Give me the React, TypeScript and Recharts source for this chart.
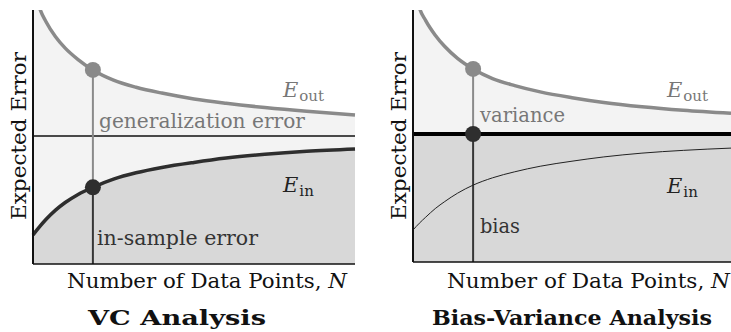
import { ComposedChart, Area, Line, XAxis, YAxis, ReferenceLine, ReferenceDot } from "recharts";

// VC analysis panel
const vcN = [0, 2, 4, 7, 10, 14, 18.6, 25, 32, 40, 50, 60, 72, 85, 100];
const vcEout = [112, 101, 95.5, 89.5, 85, 80.5, 76.4, 72.4, 69.6, 67.3, 65, 63.3, 61.6, 60.1, 58.7];
const vcEin = [11.4, 14.6, 17.5, 21.2, 24.2, 27.4, 30.2, 33.4, 35.9, 38, 40, 41.7, 43.2, 44.4, 45.3];
const vcGeneralization = 50.4;
const vcMarkerN = 18.6;

// bias-variance panel
const bvN = [0, 2, 4, 7, 10, 14, 18.9, 25, 32, 40, 50, 60, 72, 85, 100];
const bvEout = [114, 101, 95.8, 90, 85.5, 80.8, 76.6, 72.8, 70, 67.5, 65.2, 63.3, 61.6, 60.2, 59];
const bvEin = [12.7, 15.4, 17.8, 21.2, 24, 27.3, 30.5, 33.4, 35.8, 38, 40, 41.7, 43.2, 44.3, 45.2];
const bvBias = 50.8;
const bvMarkerN = 18.9;

const vcData = vcN.map((n, i) => ({ n, eout: vcEout[i], ein: vcEin[i] }));
const bvData = bvN.map((n, i) => ({ n, eout: bvEout[i], ein: bvEin[i], bias: bvBias }));

const vcMarkerOut = vcEout[vcN.indexOf(vcMarkerN)];
const vcMarkerIn = vcEin[vcN.indexOf(vcMarkerN)];
const bvMarkerOut = bvEout[bvN.indexOf(bvMarkerN)];

const LIGHT = "#f3f3f3";
const DARK = "#d8d8d8";
const GREY = "#8a8a8a";
const INK = "#363636";
const SERIF = "DejaVu Serif";

const textStyle = { fontFamily: SERIF };

function ErrLabel({ x, y, sub, fill }: { x: number; y: number; sub: string; fill: string }) {
  return (
    <text x={x} y={y} fill={fill} style={textStyle} fontSize={21}>
      <tspan fontStyle="italic">E</tspan>
      <tspan fontSize={15} dy={4} dx={1}>{sub}</tspan>
    </text>
  );
}

function YTitle({ x }: { x: number }) {
  return (
    <text
      transform={`translate(${x},136) rotate(-90)`}
      textAnchor="middle"
      style={textStyle}
      fontSize={20}
      fill="#111"
      textLength={168}
      lengthAdjust="spacingAndGlyphs"
    >
      Expected Error
    </text>
  );
}

function XTitle({ x, width }: { x: number; width: number }) {
  return (
    <text x={x} y={288} style={textStyle} fontSize={20} fill="#111" textLength={width} lengthAdjust="spacingAndGlyphs">
      Number of Data Points, <tspan fontStyle="italic">N</tspan>
    </text>
  );
}

export default function App() {
  return (
    <div style={{ position: "absolute", left: 0, top: 0, width: 731, height: 332, background: "#fff" }}>
      <div style={{ position: "absolute", left: 0, top: 0 }}>
        <ComposedChart width={370} height={332} data={vcData} margin={{ top: 10, right: 15, bottom: 68, left: 33 }}>
          <XAxis dataKey="n" type="number" domain={[0, 100]} hide height={0} />
          <YAxis domain={[0, 100]} allowDataOverflow hide width={0} />
          <Area dataKey="eout" type="monotone" stroke="none" fill={LIGHT} fillOpacity={1} isAnimationActive={false} />
          <Area dataKey="ein" type="monotone" stroke="none" fill={DARK} fillOpacity={1} isAnimationActive={false} />
          <ReferenceLine y={vcGeneralization} stroke="#111" strokeWidth={1.5} />
          <ReferenceLine
            segment={[{ x: vcMarkerN, y: vcMarkerIn }, { x: vcMarkerN, y: vcMarkerOut }]}
            stroke={GREY}
            strokeWidth={2}
          />
          <ReferenceLine segment={[{ x: vcMarkerN, y: 0 }, { x: vcMarkerN, y: vcMarkerIn }]} stroke={INK} strokeWidth={2} />
          <Line dataKey="eout" type="monotone" stroke={GREY} strokeWidth={3.5} dot={false} isAnimationActive={false} />
          <Line dataKey="ein" type="monotone" stroke="#2e2e2e" strokeWidth={3.5} dot={false} isAnimationActive={false} />
          <ReferenceDot x={vcMarkerN} y={vcMarkerOut} r={8} fill={GREY} stroke="none" />
          <ReferenceDot x={vcMarkerN} y={vcMarkerIn} r={8} fill="#2e2e2e" stroke="none" />
          <ReferenceLine x={0} stroke="#111" strokeWidth={2} />
          <ReferenceLine y={0} stroke="#111" strokeWidth={1.5} />
        </ComposedChart>
      </div>
      <div style={{ position: "absolute", left: 370, top: 0 }}>
        <ComposedChart width={361} height={332} data={bvData} margin={{ top: 10, right: 0, bottom: 70, left: 43 }}>
          <XAxis dataKey="n" type="number" domain={[0, 100]} hide height={0} />
          <YAxis domain={[0, 100]} allowDataOverflow hide width={0} />
          <Area dataKey="eout" type="monotone" stroke="none" fill={LIGHT} fillOpacity={1} isAnimationActive={false} />
          <Area dataKey="bias" type="linear" stroke="none" fill={DARK} fillOpacity={1} isAnimationActive={false} />
          <ReferenceLine
            segment={[{ x: bvMarkerN, y: bvBias }, { x: bvMarkerN, y: bvMarkerOut }]}
            stroke={GREY}
            strokeWidth={2}
          />
          <ReferenceLine segment={[{ x: bvMarkerN, y: 0 }, { x: bvMarkerN, y: bvBias }]} stroke={INK} strokeWidth={2} />
          <Line dataKey="ein" type="monotone" stroke="#222" strokeWidth={1} dot={false} isAnimationActive={false} />
          <Line dataKey="eout" type="monotone" stroke={GREY} strokeWidth={3.5} dot={false} isAnimationActive={false} />
          <Line dataKey="bias" type="linear" stroke="#000" strokeWidth={4} dot={false} isAnimationActive={false} />
          <ReferenceDot x={bvMarkerN} y={bvMarkerOut} r={8} fill={GREY} stroke="none" />
          <ReferenceDot x={bvMarkerN} y={bvBias} r={8} fill="#2e2e2e" stroke="none" />
          <ReferenceLine x={0} stroke="#111" strokeWidth={2} />
          <ReferenceLine y={0} stroke="#111" strokeWidth={1.5} />
        </ComposedChart>
      </div>
      <svg width={731} height={332} style={{ position: "absolute", left: 0, top: 0, pointerEvents: "none" }}>
        <YTitle x={26} />
        <XTitle x={67} width={280} />
        <text x={99} y={128} style={textStyle} fontSize={20} fill="#777" textLength={206} lengthAdjust="spacingAndGlyphs">
          generalization error
        </text>
        <text x={97} y={245} style={textStyle} fontSize={20} fill="#333" textLength={161} lengthAdjust="spacingAndGlyphs">
          in-sample error
        </text>
        <ErrLabel x={283} y={97} sub="out" fill="#777" />
        <ErrLabel x={283} y={192} sub="in" fill="#222" />
        <text x={88} y={325} style={textStyle} fontSize={20} fontWeight="bold" fill="#111" textLength={178} lengthAdjust="spacingAndGlyphs">
          VC Analysis
        </text>

        <YTitle x={406} />
        <XTitle x={447} width={283} />
        <text x={480} y={122} style={textStyle} fontSize={20} fill="#777" textLength={85} lengthAdjust="spacingAndGlyphs">
          variance
        </text>
        <text x={480} y={233} style={textStyle} fontSize={20} fill="#333" textLength={40} lengthAdjust="spacingAndGlyphs">
          bias
        </text>
        <ErrLabel x={667} y={97} sub="out" fill="#777" />
        <ErrLabel x={667} y={193} sub="in" fill="#222" />
        <text x={432} y={325} style={textStyle} fontSize={20} fontWeight="bold" fill="#111" textLength={280} lengthAdjust="spacingAndGlyphs">
          Bias-Variance Analysis
        </text>
      </svg>
    </div>
  );
}
